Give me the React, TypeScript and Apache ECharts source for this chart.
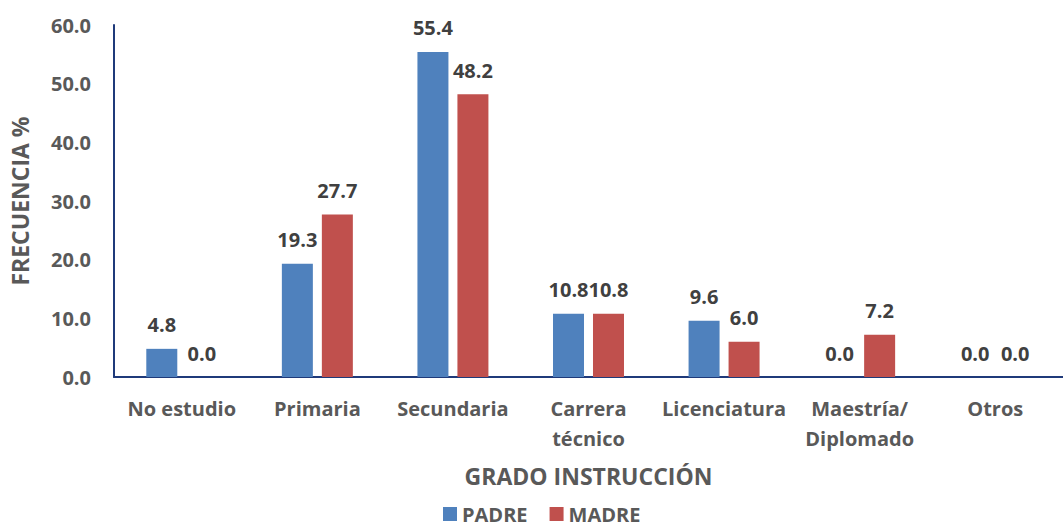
import React, { useEffect, useRef } from "react";
import * as echarts from "echarts";

const categories = ["No estudio", "Primaria", "Secundaria", "Carrera\ntécnico", "Licenciatura", "Maestría/\nDiplomado", "Otros"];
const padre = [4.8, 19.3, 55.4, 10.8, 9.6, 0.0, 0.0];
const madre = [0.0, 27.7, 48.2, 10.8, 6.0, 7.2, 0.0];
const seriesNames = ["PADRE", "MADRE"];
const colors = ["#4F81BD", "#C0504D"];

const FONT = "Open Sans";
const AXIS_COLOR = "#1F3A7A";
const TEXT_COLOR = "#595959";

export default function App() {
  const ref = useRef<HTMLDivElement>(null);
  useEffect(() => {
    if (!ref.current) return;
    const chart = echarts.init(ref.current, null, { renderer: "svg" });
    const label = {
      show: true,
      position: "top",
      distance: 14,
      fontFamily: FONT,
      fontWeight: "bold",
      fontSize: 20,
      color: "#404040",
      formatter: (p: any) => Number(p.value).toFixed(1),
    };
    chart.setOption({
      animation: false,
      textStyle: { fontFamily: FONT },
      legend: {
        data: seriesNames,
        left: 443,
        top: 503,
        padding: 0,
        itemWidth: 14,
        itemHeight: 14,
        itemGap: 22,
        icon: "rect",
        textStyle: { fontFamily: FONT, fontWeight: "bold", fontSize: 20, lineHeight: 22, color: TEXT_COLOR },
      },
      grid: { left: 110, top: 25, width: 966, height: 352 },
      xAxis: {
        type: "category",
        data: categories,
        name: "GRADO INSTRUCCIÓN",
        nameLocation: "middle",
        nameGap: 87,
        nameTextStyle: { fontFamily: FONT, fontWeight: "bold", fontSize: 23, color: TEXT_COLOR, verticalAlign: "top" },
        axisLine: { lineStyle: { color: AXIS_COLOR, width: 2 } },
        axisTick: { show: false },
        axisLabel: { fontFamily: FONT, fontWeight: "bold", fontSize: 20, color: TEXT_COLOR, margin: 16, lineHeight: 30, interval: 0 },
      },
      yAxis: {
        type: "value",
        min: 0,
        max: 60,
        interval: 10,
        name: "FRECUENCIA %",
        nameLocation: "middle",
        nameGap: 83,
        nameRotate: 90,
        nameTextStyle: { fontFamily: FONT, fontWeight: "bold", fontSize: 23, color: TEXT_COLOR },
        axisLine: { show: true, lineStyle: { color: AXIS_COLOR, width: 2 } },
        axisTick: { show: false },
        splitLine: { show: false },
        axisLabel: {
          fontFamily: FONT,
          fontWeight: "bold",
          fontSize: 20,
          color: TEXT_COLOR,
          margin: 23,
          formatter: (v: number) => v.toFixed(1),
        },
      },
      series: [
        { name: seriesNames[0], type: "bar", data: padre, barWidth: 31, barGap: "29%", itemStyle: { color: colors[0] }, label },
        { name: seriesNames[1], type: "bar", data: madre, barWidth: 31, barGap: "29%", itemStyle: { color: colors[1] }, label },
      ],
    });
    return () => chart.dispose();
  }, []);
  return <div ref={ref} style={{ width: 1063, height: 528, position: "absolute", left: 0, top: 0 }} />;
}
